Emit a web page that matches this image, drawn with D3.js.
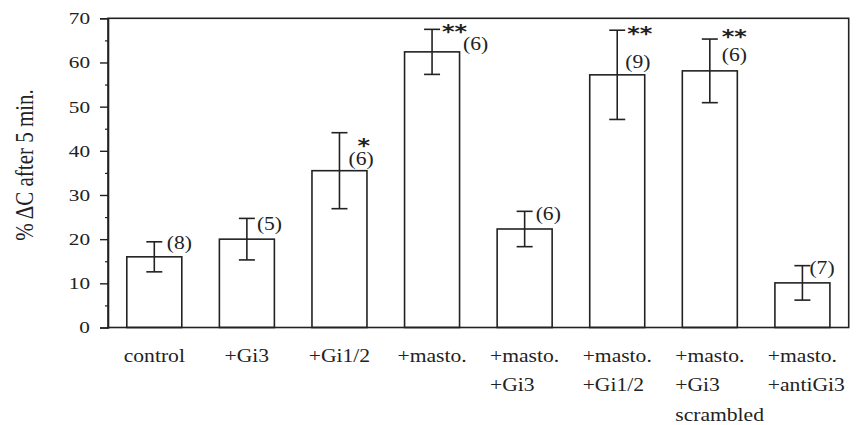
<!DOCTYPE html>
<html>
<head>
<meta charset="utf-8">
<script src="https://cdn.jsdelivr.net/npm/d3@7/dist/d3.min.js"></script>
<style>
  html, body { margin: 0; padding: 0; background: #fff; }
  svg { display: block; }
  text { font-family: "Liberation Serif", "Times New Roman", serif; fill: #222; }
</style>
</head>
<body>
<svg id="chart" width="859" height="425"></svg>
<script>
// ---- data ----
const categories = [
  ["control"],
  ["+Gi3"],
  ["+Gi1/2"],
  ["+masto."],
  ["+masto.", "+Gi3"],
  ["+masto.", "+Gi1/2"],
  ["+masto.", "+Gi3", "scrambled"],
  ["+masto.", "+antiGi3"]
];
const means = [16.0, 20.0, 35.5, 62.4, 22.3, 57.2, 58.1, 10.1];
const errors = [3.4, 4.7, 8.6, 5.1, 4.0, 10.1, 7.2, 3.9];
const nLabels = ["(8)", "(5)", "(6)", "(6)", "(6)", "(9)", "(6)", "(7)"];
const significance = ["", "", "*", "**", "", "**", "**", ""];
const yTicks = [0, 10, 20, 30, 40, 50, 60, 70];
const yMinorTicks = [5, 15, 25, 35, 45, 55, 65];
const yTitle = "% \u0394C after 5 min.";

// ---- layout (pixel offsets of annotations relative to the upper error cap) ----
const nLabelOffset = [[12.5, 6.8], [10, 12], [9, 32.2], [31, 20.2], [11, 8.5], [8, 37.5], [12, 21.8], [7, 8.5]];
const starOffset = [null, null, [18, 19.3], [10, 8.3], null, [10, 9.6], [12, 3.9], null];
const stretch = 1.2; // the original text is horizontally wide

const W = 859, H = 425;
const margin = { left: 108, top: 18.3, right: 10.3, bottom: 97.5 };
const iw = W - margin.left - margin.right;
const ih = H - margin.top - margin.bottom;
const ink = "#222";

const svg = d3.select("#chart");
const g = svg.append("g").attr("transform", `translate(${margin.left},${margin.top})`);

const x = d3.scaleBand()
  .domain(d3.range(categories.length))
  .range([0, iw])
  .paddingInner(0.406)
  .paddingOuter(0.203);
const y = d3.scaleLinear().domain([0, 70]).range([ih, 0]);
const cxOf = i => x(i) + x.bandwidth() / 2;

// bars
g.selectAll("rect.bar")
  .data(means)
  .join("rect")
  .attr("class", "bar")
  .attr("x", (d, i) => x(i))
  .attr("y", d => y(d))
  .attr("width", x.bandwidth())
  .attr("height", d => y(0) - y(d))
  .attr("fill", "none")
  .attr("stroke", ink)
  .attr("stroke-width", 1.6);

// error bars
const capW = 8;
const eb = g.selectAll("g.err").data(means).join("g").attr("class", "err");
eb.append("line")
  .attr("x1", (d, i) => cxOf(i))
  .attr("x2", (d, i) => cxOf(i))
  .attr("y1", (d, i) => y(d + errors[i]))
  .attr("y2", (d, i) => y(d - errors[i]))
  .attr("stroke", ink).attr("stroke-width", 1.6);
eb.append("line")
  .attr("x1", (d, i) => cxOf(i) - capW)
  .attr("x2", (d, i) => cxOf(i) + capW)
  .attr("y1", (d, i) => y(d + errors[i]))
  .attr("y2", (d, i) => y(d + errors[i]))
  .attr("stroke", ink).attr("stroke-width", 1.6);
eb.append("line")
  .attr("x1", (d, i) => cxOf(i) - capW)
  .attr("x2", (d, i) => cxOf(i) + capW)
  .attr("y1", (d, i) => y(d - errors[i]))
  .attr("y2", (d, i) => y(d - errors[i]))
  .attr("stroke", ink).attr("stroke-width", 1.6);

// n labels
g.selectAll("text.n")
  .data(nLabels)
  .join("text")
  .attr("class", "n")
  .attr("transform", (d, i) =>
    `translate(${cxOf(i) + nLabelOffset[i][0]},${y(means[i] + errors[i]) + nLabelOffset[i][1]}) scale(${stretch},1)`)
  .attr("font-size", 18)
  .text(d => d);

// significance stars
const sigData = significance.map((s, i) => ({ s, i })).filter(d => d.s !== "");
g.selectAll("text.sig")
  .data(sigData)
  .join("text")
  .attr("class", "sig")
  .attr("transform", d =>
    `translate(${cxOf(d.i) + starOffset[d.i][0]},${y(means[d.i] + errors[d.i]) + starOffset[d.i][1]}) scale(${stretch},1)`)
  .style("font-family", "'DejaVu Sans', sans-serif")
  .attr("font-weight", "bold")
  .attr("font-size", 20)
  .text(d => d.s);

// frame
g.append("rect")
  .attr("x", 0).attr("y", 0)
  .attr("width", iw).attr("height", ih)
  .attr("fill", "none")
  .attr("stroke", ink)
  .attr("stroke-width", 1.6);

// y axis
const tickStretch = 1.25;
const yAxis = d3.axisLeft(y).tickValues(yTicks).tickSize(8).tickPadding(9).tickFormat(d3.format("d"));
const ya = g.append("g").call(yAxis);
ya.select(".domain").attr("stroke", ink).attr("stroke-width", 1.6);
ya.selectAll(".tick line").attr("stroke", ink).attr("stroke-width", 1.4);
ya.selectAll(".tick text")
  .attr("font-family", "Liberation Serif, serif")
  .attr("font-size", 17)
  .attr("fill", ink)
  .attr("x", -18 / tickStretch)
  .attr("transform", `scale(${tickStretch},1)`);

const yMinor = d3.axisLeft(y).tickValues(yMinorTicks).tickSize(3).tickFormat("");
const ym = g.append("g").call(yMinor);
ym.select(".domain").remove();
ym.selectAll(".tick line").attr("stroke", ink).attr("stroke-width", 1.2);

// x labels
const lineH = 30;
const xl = g.selectAll("g.xlab").data(categories).join("g").attr("class", "xlab")
  .attr("transform", (d, i) => `translate(${cxOf(i)},${ih + 34}) scale(${stretch},1)`);
xl.each(function (lines) {
  const t = d3.select(this).append("text").attr("font-size", 18);
  t.append("tspan").attr("x", 0).attr("y", 0).text(lines[0]);
  const w0 = t.node().getComputedTextLength();
  const x0 = -w0 / 2;
  t.select("tspan").attr("x", x0);
  lines.slice(1).forEach((ln, k) => {
    t.append("tspan").attr("x", x0).attr("y", lineH * (k + 1)).text(ln);
  });
});

// y title
svg.append("text")
  .attr("transform", `translate(33, 165) rotate(-90) scale(1,${stretch})`)
  .attr("text-anchor", "middle")
  .attr("font-size", 21)
  .text(yTitle);
</script>
</body>
</html>
